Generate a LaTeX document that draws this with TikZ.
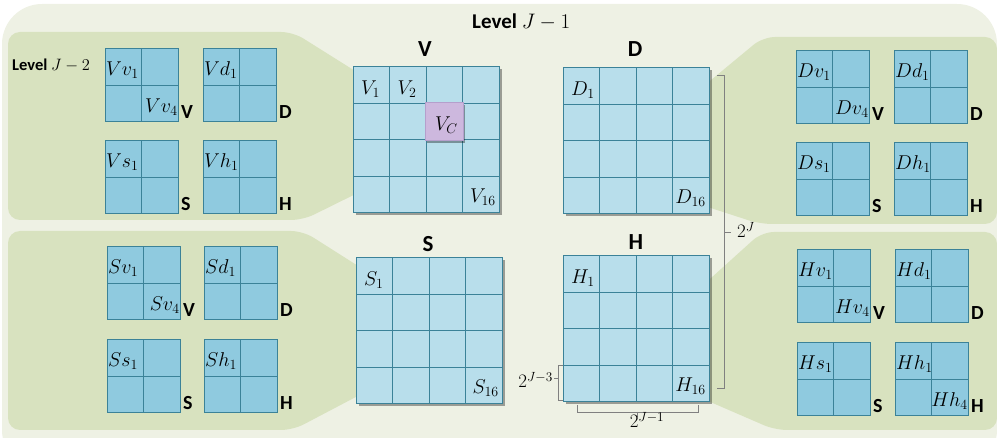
\RequirePackage{fix-cm}
\documentclass[tikz,border=0pt]{standalone}
\usepackage[no-math]{fontspec}
\setmainfont{Carlito}
\usetikzlibrary{calc,shadows}
\definecolor{outerbg}{HTML}{EEF1E4}
\definecolor{panelgreen}{HTML}{D8E2BF}
\definecolor{bigcell}{HTML}{B8DEEB}
\definecolor{smallcell}{HTML}{8FCADF}
\definecolor{gridc}{HTML}{3B8298}
\definecolor{vcfill}{HTML}{CDB8DE}
\definecolor{vcdraw}{HTML}{B59FCC}
\definecolor{brk}{HTML}{808080}
\tikzset{
  bigbox/.style={draw=gridc, fill=bigcell, line width=1pt, minimum width=146pt, minimum height=146pt, inner sep=0pt, outer sep=0pt,
    drop shadow={shadow xshift=2.5pt, shadow yshift=-2.5pt, opacity=0.35, fill=black}},
  smallbox/.style={draw=gridc, fill=smallcell, line width=1pt, minimum width=73pt, minimum height=73pt, inner sep=0pt, outer sep=0pt},
  gridline/.style={draw=gridc, line width=1pt},
  mlab/.style={inner sep=0pt, font=\fontsize{20}{23}\selectfont},
  letlab/.style={inner sep=0pt, font=\fontsize{20}{24}\selectfont\bfseries},
  titlab/.style={inner sep=0pt, font=\fontsize{23}{26}\selectfont\bfseries},
  brkline/.style={draw=brk, line width=0.9pt},
  brklab/.style={inner sep=0pt, font=\fontsize{19}{22}\selectfont},
}
\newcommand{\bmat}[5]{%
  \node[bigbox, anchor=north west] (#1) at (#2,#3) {};
  \foreach \k in {1,2,3}{%
    \draw[gridline] ($(#1.north west)+(\k*36.5,0)$) -- ($(#1.south west)+(\k*36.5,0)$);
    \draw[gridline] ($(#1.north west)+(0,\k*36.5)$) -- ($(#1.north east)+(0,\k*36.5)$);
  }%
  \node[mlab, anchor=base west] (#1-a) at ($(#1.north west)+(8,28)$) {$#4$};
  \node[mlab, anchor=base east] (#1-b) at ($(#1.south east)+(-3,-10)$) {$#5$};
}
\newcommand{\smat}[6]{%
  \node[smallbox, anchor=north west] (#1) at (#2,#3) {};
  \draw[gridline] (#1.north) -- (#1.south);
  \draw[gridline] (#1.west) -- (#1.east);
  \node[mlab, anchor=base west] (#1-a) at ($(#1.north west)+(1,27)$) {$#4$};
  \if\relax\detokenize{#5}\relax\else
    \node[mlab, anchor=base east] (#1-b) at ($(#1.south east)+(0,-9)$) {$#5$};
  \fi
  \node[letlab, anchor=base west] (#1-c) at ($(#1.south east)+(3,-3)$) {#6};
}
\begin{document}
\begin{tikzpicture}[x=1pt,y=-1pt]
\useasboundingbox (0,0) rectangle (997,438);
% backgrounds
\fill[outerbg, rounded corners=40] (2,4) rectangle (997,470);
\fill[panelgreen, rounded corners=12] (8,220) -- (8,32) -- (293,32) -- (465,140) -- (303,220) -- cycle;
\fill[panelgreen, rounded corners=12] (8,231) -- (8,430) -- (293,430) -- (470,337) -- (303,231) -- cycle;
\fill[panelgreen, rounded corners=12] (763,37) -- (997,37) -- (997,224) -- (760,224) -- (600,172) -- cycle;
\fill[panelgreen, rounded corners=12] (762,232) -- (997,232) -- (997,430) -- (775,430) -- (618,362) -- cycle;
% titles
\node[inner sep=0pt, font=\fontsize{21}{24}\selectfont\bfseries, anchor=base west] (lvl1) at (472,29) {Level $J-1$};
\node[inner sep=0pt, font=\fontsize{16.5}{19}\selectfont\bfseries, anchor=base west] (lvl2) at (12,71) {Level $J-2$};
\node[titlab, anchor=base] (tV) at (425,57) {V};
\node[titlab, anchor=base] (tD) at (635,57) {D};
\node[titlab, anchor=base] (tS) at (428,252) {S};
\node[titlab, anchor=base] (tH) at (636,250) {H};
% big matrices
\bmat{V}{353}{67}{V_1}{V_{16}}
\bmat{D}{563}{68}{D_1}{D_{16}}
\bmat{S}{356}{258}{S_1}{S_{16}}
\bmat{H}{563}{256}{H_1}{H_{16}}
\node[mlab, anchor=base west] (V-2) at ($(V.north west)+(44.5,28)$) {$V_2$};
\node[draw=vcdraw, fill=vcfill, line width=0.8pt, minimum size=38pt, inner sep=0pt,
      drop shadow={shadow xshift=2pt, shadow yshift=-2pt, opacity=0.35, fill=black}] (Vc) at ($(V.north west)+(91.25,54.75)$) {};
\node[mlab, anchor=base west] (Vc-l) at ($(Vc.north west)+(10,28)$) {$V_C$};
% small matrices
\smat{Vv}{105}{49}{Vv_1}{Vv_4}{V}
\smat{Vd}{203}{49}{Vd_1}{}{D}
\smat{Vs}{105}{141}{Vs_1}{}{S}
\smat{Vh}{203}{141}{Vh_1}{}{H}
\smat{Sv}{107}{247}{Sv_1}{Sv_4}{V}
\smat{Sd}{204}{247}{Sd_1}{}{D}
\smat{Ss}{107}{340}{Ss_1}{}{S}
\smat{Sh}{204}{340}{Sh_1}{}{H}
\smat{Dv}{796}{51}{Dv_1}{Dv_4}{V}
\smat{Dd}{894}{51}{Dd_1}{}{D}
\smat{Ds}{796}{143}{Ds_1}{}{S}
\smat{Dh}{894}{143}{Dh_1}{}{H}
\smat{Hv}{797}{250}{Hv_1}{Hv_4}{V}
\smat{Hd}{895}{250}{Hd_1}{}{D}
\smat{Hs}{797}{343}{Hs_1}{}{S}
\smat{Hh}{895}{343}{Hh_1}{Hh_4}{H}
% right bracket 2^J
\coordinate (rb1) at ($(D.north east)+(8,7)$);
\coordinate (rb2) at ($(D.north east)+(15,7)$);
\coordinate (rb3) at ($(H.south east)+(15,-14)$);
\coordinate (rb4) at ($(H.south east)+(8,-14)$);
\draw[brkline] (rb1) -- (rb2) -- (rb3) -- (rb4);
\coordinate (rbm) at (724,232);
\coordinate (rbt) at (731,232);
\draw[brkline] (rbm) -- (rbt);
\node[brklab, anchor=base west] (lJ) at (737,238) {$2^J$};
% left bracket 2^{J-3}
\coordinate (lb1) at ($(H.south west)+(0,-37)$);
\coordinate (lb2) at ($(H.south west)+(-5,-37)$);
\coordinate (lb3) at ($(H.south west)+(-5,-2)$);
\coordinate (lb4) at ($(H.south west)+(0,-2)$);
\draw[brkline] (lb1) -- (lb2) -- (lb3) -- (lb4);
\coordinate (lbm) at (558,378);
\coordinate (lbt) at (554,378);
\draw[brkline] (lbm) -- (lbt);
\node[brklab, anchor=base east] (lJ3) at (553,388) {$2^{J-3}$};
% bottom bracket 2^{J-1}
\coordinate (bb1) at (577,405);
\coordinate (bb2) at (577,412);
\coordinate (bb3) at (698,412);
\coordinate (bb4) at (698,405);
\draw[brkline] (bb1) -- (bb2) -- (bb3) -- (bb4);
\coordinate (bbm) at (637,412);
\coordinate (bbt) at (637,417);
\draw[brkline] (bbm) -- (bbt);
\node[brklab, anchor=base] (lJ1) at (647,428) {$2^{J-1}$};
\end{tikzpicture}
\end{document}
